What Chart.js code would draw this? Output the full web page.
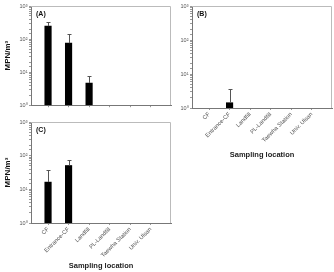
<!DOCTYPE html>
<html>
<head>
<meta charset="utf-8">
<script src="https://cdn.jsdelivr.net/npm/chart.js@4"></script>
<style>
  body { margin: 0; background: #fff; }
  #wrap { position: relative; width: 334px; height: 272px; overflow: hidden; }
  canvas { position: absolute; }
</style>
</head>
<body>
<div id="wrap">
  <canvas id="chartA" width="172" height="110" style="left:0;top:0"></canvas>
  <canvas id="chartB" width="173" height="162" style="left:161px;top:0"></canvas>
  <canvas id="chartC" width="172" height="156" style="left:0;top:116px"></canvas>
</div>
<script>
const categories = ['CF', 'Entrance-CF', 'Landfill', 'PL-Landfill', 'Taewha Station', 'Univ. Ulsan'];

// mean values and upper error bar ends (MPN/m3)
const valuesA = [246, 75, 4.7, null, null, null];
const errorsA = [331, 147, 7.5, null, null, null];
const valuesB = [null, 1.43, null, null, null, null];
const errorsB = [null, 3.55, null, null, null, null];
const valuesC = [16.4, 51, null, null, null, null];
const errorsC = [38, 75, null, null, null, null];

const yTicks = [1, 10, 100, 1000];
const supers = ['\u2070', '\u00b9', '\u00b2', '\u00b3'];

const fontFamily = '"Liberation Sans", Arial, sans-serif';

// upper error bars with a small cap
const errorBars = {
    id: 'errorBars',
    afterDatasetsDraw(chart, args, opts) {
        const ctx = chart.ctx;
        const xs = chart.scales.x, ys = chart.scales.y;
        ctx.save();
        ctx.strokeStyle = '#555';
        ctx.lineWidth = 1;
        opts.values.forEach((v, i) => {
            const e = opts.errors[i];
            if (v == null || e == null) return;
            const x = Math.round(xs.getPixelForValue(i)) + 0.5;
            const y0 = ys.getPixelForValue(v);
            const y1 = Math.round(ys.getPixelForValue(e)) + 0.5;
            ctx.beginPath();
            ctx.moveTo(x, y0);
            ctx.lineTo(x, y1);
            ctx.moveTo(x - 2, y1);
            ctx.lineTo(x + 2, y1);
            ctx.stroke();
        });
        ctx.restore();
    }
};

// box around the plot area and the panel letter
const frame = {
    id: 'frame',
    afterDraw(chart, args, opts) {
        const {ctx, chartArea: a} = chart;
        ctx.save();
        ctx.strokeStyle = '#bbb';
        ctx.lineWidth = 1;
        ctx.beginPath();
        ctx.moveTo(Math.round(a.left), Math.round(a.top) + 0.5);
        ctx.lineTo(Math.round(a.right) - 0.5, Math.round(a.top) + 0.5);
        ctx.lineTo(Math.round(a.right) - 0.5, Math.round(a.bottom));
        ctx.stroke();
        ctx.fillStyle = '#111';
        ctx.font = 'bold 7px ' + fontFamily;
        ctx.textBaseline = 'middle';
        ctx.fillText(opts.label, a.left + 5, a.top + 8.5);
        ctx.restore();
    }
};

function makeChart(id, label, values, errors, showX, showYTitle, xHeight) {
    return new Chart(document.getElementById(id), {
        type: 'bar',
        data: {
            datasets: [{
                data: values.map((v, i) => ({x: i, y: v})),
                backgroundColor: '#000',
                borderWidth: 0,
                barThickness: 6.5
            }]
        },
        options: {
            responsive: false,
            animation: false,
            layout: { padding: { top: 6, right: id === 'chartB' ? 2 : 1, left: 0, bottom: 0 } },
            plugins: {
                legend: { display: false },
                tooltip: { enabled: false },
                errorBars: { values: values, errors: errors },
                frame: { label: label }
            },
            scales: {
                x: {
                    type: 'linear',
                    offset: false,
                    min: -0.83,
                    max: 5.99,
                    afterFit: s => { s.height = xHeight; },
                    grid: { drawOnChartArea: false, tickLength: 2, color: '#999', offset: false },
                    border: { color: '#777' },
                    ticks: {
                        display: showX,
                        stepSize: 1,
                        includeBounds: false,
                        autoSkip: false,
                        minRotation: 45,
                        maxRotation: 45,
                        padding: 1,
                        color: '#555',
                        font: { family: fontFamily, size: 5.8 },
                        callback: v => categories[v] ?? ''
                    },
                    title: {
                        display: showX,
                        text: 'Sampling location',
                        color: '#222',
                        padding: { top: 0, bottom: id === 'chartB' ? 2.5 : 1.5 },
                        font: { family: fontFamily, size: 7.5, weight: 'bold' }
                    }
                },
                y: {
                    type: 'logarithmic',
                    min: 1,
                    max: 1000,
                    afterFit: s => { s.width = 31; },
                    grid: { drawOnChartArea: false, tickLength: 2, color: '#999' },
                    border: { color: '#777' },
                    ticks: {
                        autoSkip: false,
                        padding: 1.5,
                        color: '#555',
                        font: { family: fontFamily, size: 5.5 },
                        callback: v => {
                            const k = yTicks.indexOf(v);
                            return k >= 0 ? '10' + supers[k] : '';
                        }
                    },
                    title: {
                        display: showYTitle,
                        text: 'MPN/m\u00b3',
                        color: '#111',
                        padding: { top: 3, bottom: 0 },
                        font: { family: fontFamily, size: 8, weight: 'bold' }
                    }
                }
            }
        },
        plugins: [errorBars, frame]
    });
}

makeChart('chartA', '(A)', valuesA, errorsA, false, true, 2);
makeChart('chartB', '(B)', valuesB, errorsB, true, false, 54);
makeChart('chartC', '(C)', valuesC, errorsC, true, true, 49);
</script>
</body>
</html>
